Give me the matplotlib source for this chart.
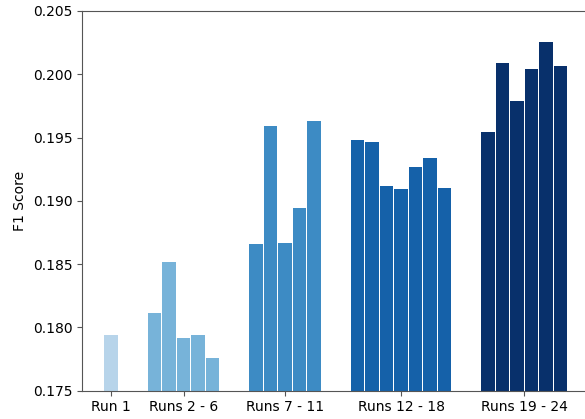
import numpy as np
import matplotlib
matplotlib.use("Agg")
import matplotlib.pyplot as plt

# F1 scores per run, grouped
group_labels = ["Run 1", "Runs 2 - 6", "Runs 7 - 11", "Runs 12 - 18", "Runs 19 - 24"]
run_1 = [0.1794]
runs_2_6 = [0.1811, 0.18516, 0.17916, 0.1794, 0.17758]
runs_7_11 = [0.18658, 0.19590, 0.18666, 0.18943, 0.19629]
runs_12_18 = [0.19479, 0.19463, 0.19116, 0.19092, 0.19266, 0.19337, 0.19100]
runs_19_24 = [0.19542, 0.20087, 0.19787, 0.20040, 0.20253, 0.20064]
group_colors = ["#b7d4ea", "#77b3d9", "#3d8bc4", "#1561a9", "#08306b"]

groups = [run_1, runs_2_6, runs_7_11, runs_12_18, runs_19_24]

fig = plt.figure(figsize=(5.85, 4.19), dpi=100)
ax = fig.add_axes([82 / 585, 28.3 / 419, 522 / 585, 379.7 / 419])

# place bars one after another, leaving 2 empty slots between groups
pos = 0
tick_pos = []
for vals, col in zip(groups, group_colors):
    xs = np.arange(pos, pos + len(vals))
    ax.bar(xs, vals, width=0.9, color=col)
    tick_pos.append(xs.mean())
    pos += len(vals) + 2

ax.set_xticks(tick_pos)
ax.set_xticklabels(group_labels)
ax.set_xlim(-2, 34)
ax.set_ylim(0.175, 0.205)
ax.set_yticks(np.arange(0.175, 0.2051, 0.005))
ax.yaxis.set_major_formatter(matplotlib.ticker.FormatStrFormatter("%.3f"))
ax.set_ylabel("F1 Score")

for s in ax.spines.values():
    s.set_color("#555555")
ax.tick_params(colors="#555555", labelcolor="black")

fig.savefig("out.png", dpi=100)
